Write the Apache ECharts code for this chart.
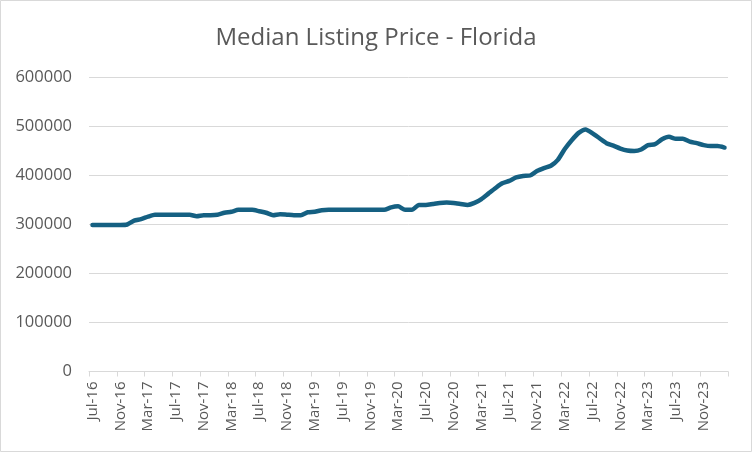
<!DOCTYPE html>
<html>
<head>
<meta charset="utf-8">
<script src="https://cdn.jsdelivr.net/npm/echarts@6/dist/echarts.min.js"></script>
<style>
html,body{margin:0;padding:0;background:#fff;}
#c{width:752px;height:452px;}
</style>
</head>
<body>
<div id="c"></div>
<script>
var categories = [
"Jul-16","Aug-16","Sep-16","Oct-16","Nov-16","Dec-16",
"Jan-17","Feb-17","Mar-17","Apr-17","May-17","Jun-17","Jul-17","Aug-17","Sep-17","Oct-17","Nov-17","Dec-17",
"Jan-18","Feb-18","Mar-18","Apr-18","May-18","Jun-18","Jul-18","Aug-18","Sep-18","Oct-18","Nov-18","Dec-18",
"Jan-19","Feb-19","Mar-19","Apr-19","May-19","Jun-19","Jul-19","Aug-19","Sep-19","Oct-19","Nov-19","Dec-19",
"Jan-20","Feb-20","Mar-20","Apr-20","May-20","Jun-20","Jul-20","Aug-20","Sep-20","Oct-20","Nov-20","Dec-20",
"Jan-21","Feb-21","Mar-21","Apr-21","May-21","Jun-21","Jul-21","Aug-21","Sep-21","Oct-21","Nov-21","Dec-21",
"Jan-22","Feb-22","Mar-22","Apr-22","May-22","Jun-22","Jul-22","Aug-22","Sep-22","Oct-22","Nov-22","Dec-22",
"Jan-23","Feb-23","Mar-23","Apr-23","May-23","Jun-23","Jul-23","Aug-23","Sep-23","Oct-23","Nov-23","Dec-23",
"Jan-24","Feb-24"
];
var medianPrice = [
299000,299000,299000,299000,299000,300000,
308000,311000,316000,319900,319900,319900,319900,319900,319900,317000,319000,319000,
319900,324000,326000,329900,329900,329900,327000,324000,319000,321000,320000,319000,
319000,325000,326000,329000,329900,329900,329900,329900,329900,329900,329900,329900,
329900,335000,337000,329900,329900,340000,340000,342000,344000,344900,344000,342000,
339900,344000,352000,363000,374000,384000,389000,396000,399000,400000,409000,415000,
420000,432000,454000,472000,487000,494000,486000,476000,466000,461000,455000,451000,
450000,453000,462000,464000,474000,479000,475000,475000,469000,466000,462000,460000,
460000,457000
];
var yTicks = {min:0, max:600000, interval:100000};
var titleText = "Median Listing Price - Florida";

var chart = echarts.init(document.getElementById('c'), null, {renderer:'canvas'});
chart.setOption({
  animation:false,
  backgroundColor:'#ffffff',
  title:{
    text:titleText, left:'center', top:21,
    textStyle:{fontFamily:'Open Sans', fontSize:24, fontWeight:'normal', color:'#595959'}
  },
  graphic:[{type:'rect', shape:{x:0.5,y:0.5,width:751,height:451}, style:{fill:null, stroke:'#d9d9d9', lineWidth:1}, silent:true}],
  grid:{left:89, right:24, top:77.5, bottom:80.5, containLabel:false},
  xAxis:{
    type:'category', data:categories, boundaryGap:true,
    axisLine:{lineStyle:{color:'#d9d9d9', width:1}},
    axisTick:{show:true, interval:3, length:5, lineStyle:{color:'#d9d9d9'}},
    axisLabel:{interval:3, rotate:90, margin:10, fontFamily:'Open Sans', fontSize:15, color:'#595959'},
    splitLine:{show:false}
  },
  yAxis:{
    type:'value', min:yTicks.min, max:yTicks.max, interval:yTicks.interval,
    axisLine:{show:false}, axisTick:{show:false},
    axisLabel:{margin:17, fontFamily:'Open Sans', fontSize:16.5, color:'#595959',
      formatter:function(v){return String(v);}},
    splitLine:{lineStyle:{color:'#d9d9d9', width:1}}
  },
  series:[{
    type:'line', data:medianPrice, showSymbol:false, symbol:'none', smooth:0.2,
    lineStyle:{color:'#156082', width:4.5, cap:'round', join:'round'}
  }]
});
</script>
</body>
</html>
